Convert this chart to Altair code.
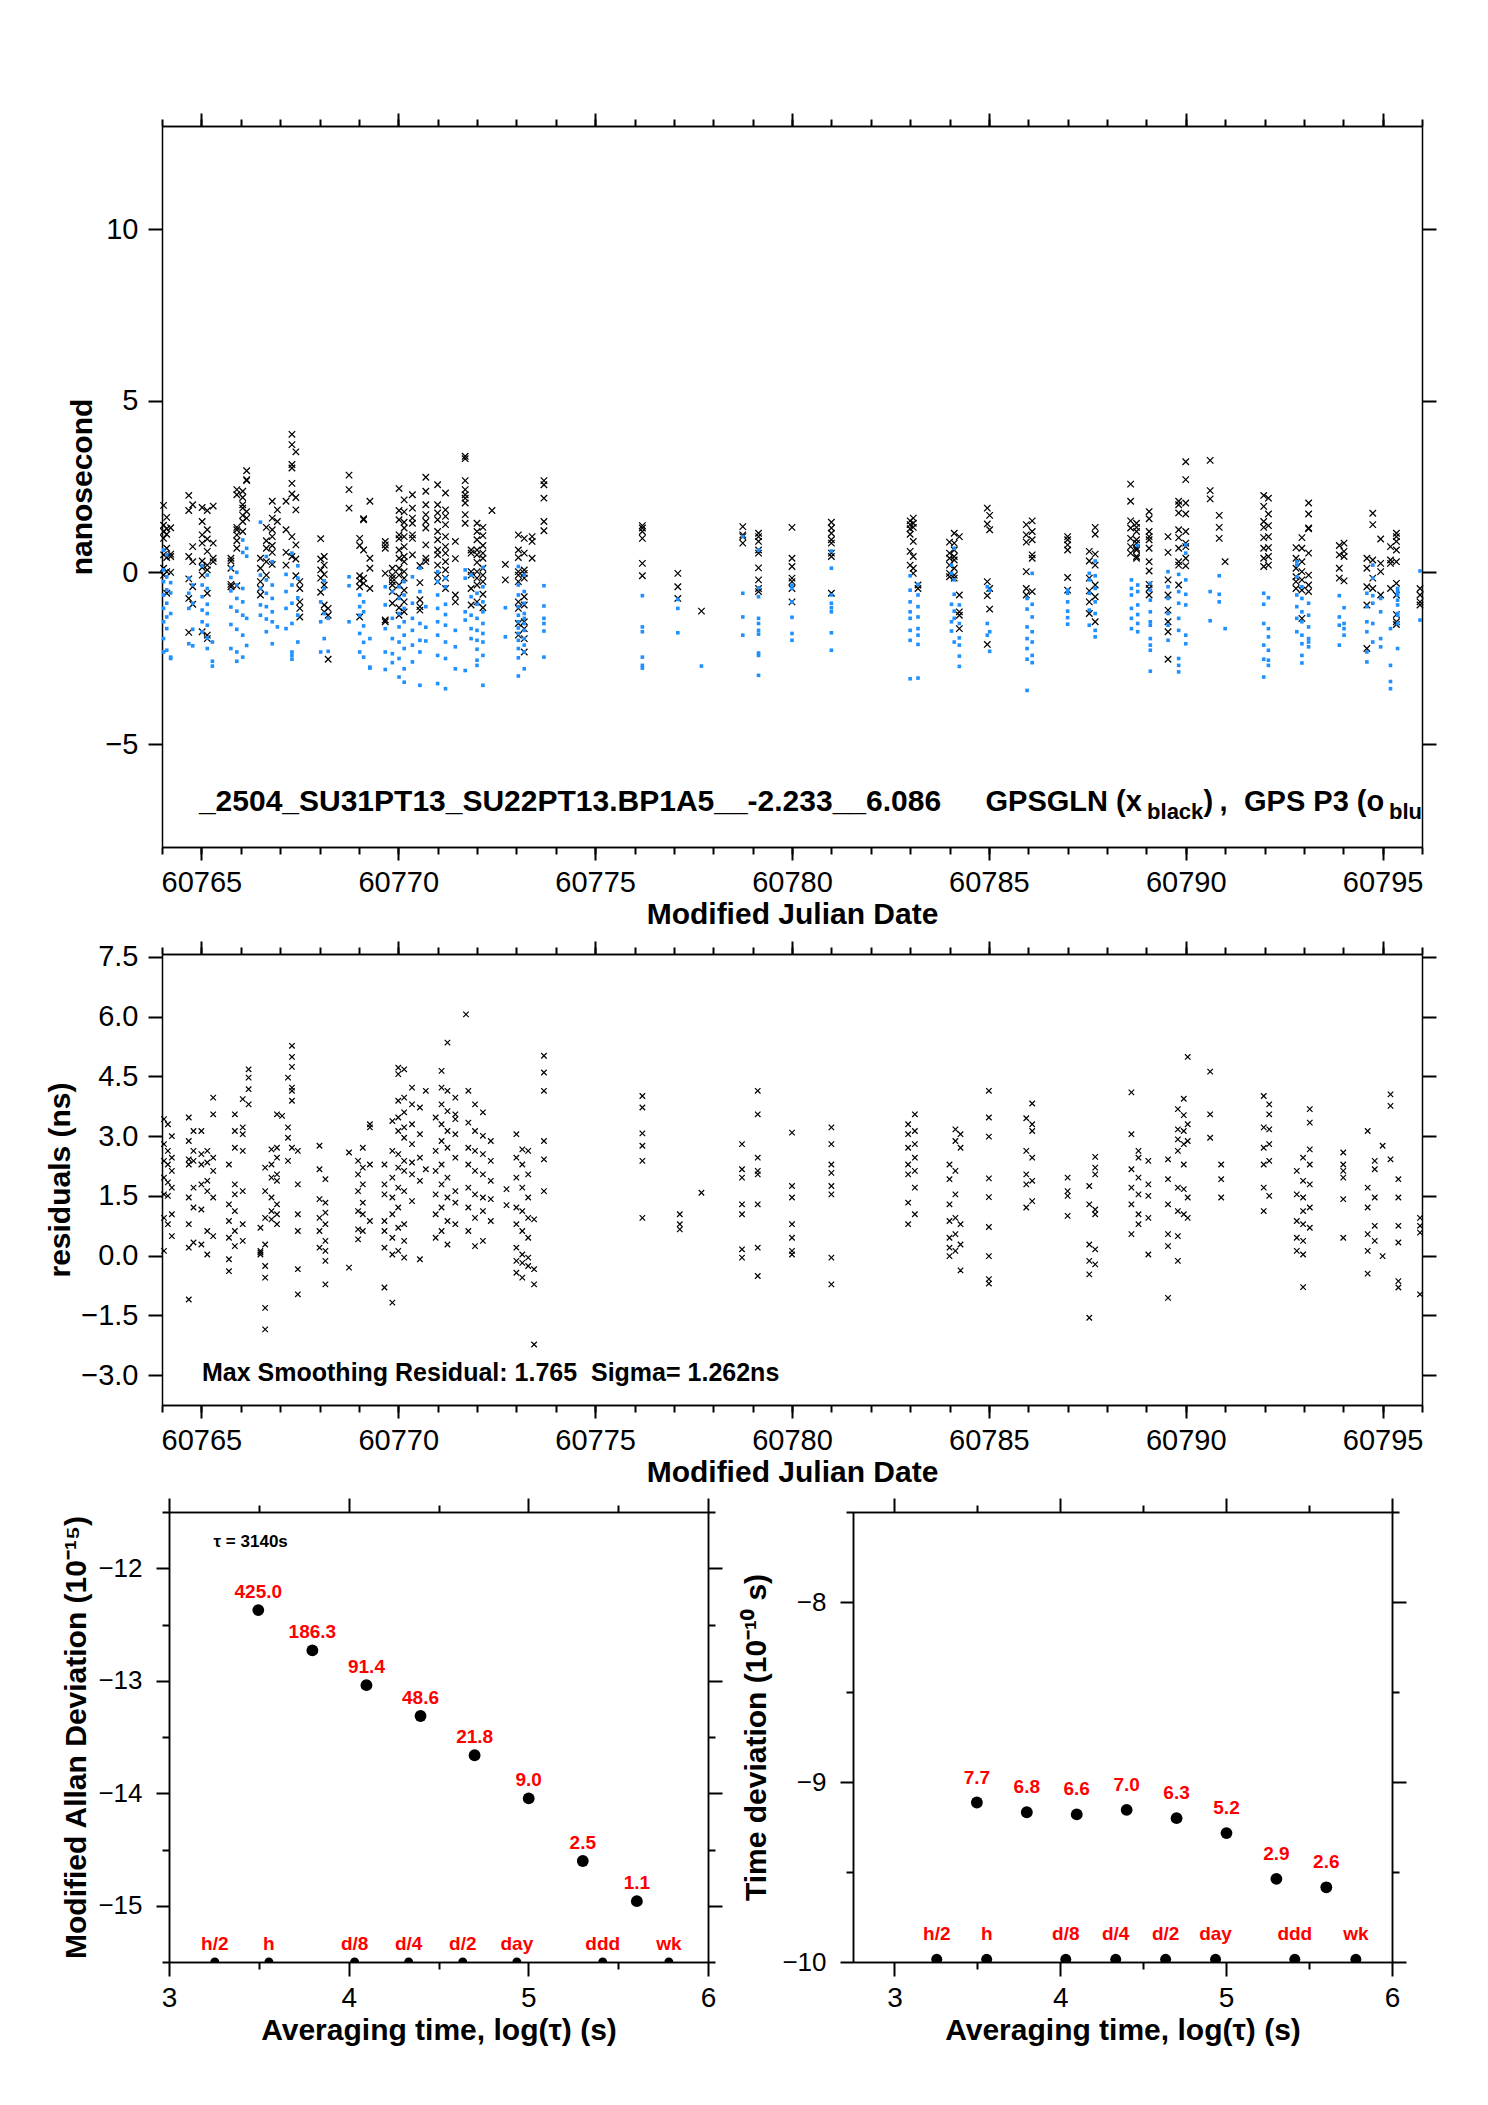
import altair as alt
import pandas as pd

FONT = "Liberation Sans"
BLUE = "#1E90FF"
XPATH = "M-1,-1L1,1M-1,1L1,-1"

# ---------------- top panel: GPSGLN (black x) per epoch group ----------------
GPSGLN_COLS = [
    (60764.04, [1.95, 1.37, 1.19, 0.99, 0.51, 0.12, -0.08]),
    (60764.12, [1.60, 1.27, 1.11, 0.70, 0.43, 0.02, -0.61]),
    (60764.22, [1.30, 0.53, 0.46, 0.00]),
    (60764.68, [2.24, 1.80, 0.46, -0.19, -0.76, -1.75]),
    (60764.78, [1.97, 0.75, 0.31, -0.42, -0.93]),
    (60765.02, [1.89, 1.48, 1.09, 0.85, 0.33, 0.14, -0.08, -1.73]),
    (60765.15, [1.80, 1.24, 0.97, 0.61, 0.21, 0.07, -0.61, -1.83, -1.93]),
    (60765.30, [1.93, 0.85, 0.41, 0.31]),
    (60765.75, [0.41, 0.33, 0.12, -0.35, -0.42]),
    (60765.90, [2.41, 2.26, 1.31, 1.24, 1.09, 0.92, 0.70, -0.39]),
    (60766.05, [2.36, 2.18, 1.97, 1.87, 1.66, 1.48, 1.19]),
    (60766.15, [2.96, 2.70, 2.67, 1.77, 1.58]),
    (60766.50, [0.41, 0.12, -0.27, -0.47, -0.66]),
    (60766.65, [1.31, 0.92, 0.70, 0.31, -0.08]),
    (60766.80, [2.07, 1.58, 1.24, 1.04, 0.78, 0.58, 0.23]),
    (60766.93, [1.82, 1.48]),
    (60767.15, [2.07, 1.24, 0.58, 0.21]),
    (60767.30, [4.02, 3.72, 3.14, 3.04, 2.59, 2.28, 1.04, 0.46]),
    (60767.40, [3.51, 2.18, 1.82, 0.80, 0.39, -0.10]),
    (60767.50, [-0.27, -0.47, -0.86, -1.05, -1.30]),
    (60768.03, [0.98, 0.39, 0.07, -0.17, -0.58]),
    (60768.12, [0.46, 0.21, -0.06, -0.37, -0.95, -1.15]),
    (60768.22, [-1.05, -1.25, -2.53]),
    (60768.75, [2.83, 2.41, 1.87]),
    (60769.02, [0.99, 0.78, -0.10, -0.25, -0.42, -1.30]),
    (60769.12, [1.56, 1.53, 0.65, -0.17, -0.32]),
    (60769.28, [2.07, 0.41, 0.12, -0.47]),
    (60769.67, [0.90, 0.80, 0.70, -0.03, -1.39, -1.44]),
    (60769.85, [0.12, -0.08, -0.17, -0.27, -0.37, -0.56, -0.90]),
    (60770.02, [2.44, 1.80, 1.53, 1.09, 0.98, 0.65, 0.41, 0.12, -0.08, -0.37, -0.71, -1.03, -1.25]),
    (60770.15, [2.11, 1.76, 1.46, 1.29, 1.04, 0.75, 0.46, 0.31, 0.02, -0.17, -0.52, -0.86, -1.15]),
    (60770.36, [2.26, 1.87, 1.58, 1.43, 1.09, 0.99, 0.51]),
    (60770.55, [0.20, -0.30, -0.80, -1.00, -1.10]),
    (60770.70, [2.77, 2.36, 1.97, 1.68, 1.48, 1.29, 0.80, 0.41, 0.31]),
    (60771.00, [2.55, 1.97, 1.73, 1.53, 1.19, 0.95, 0.65, 0.51, 0.21, -0.08, -0.27]),
    (60771.20, [2.31, 1.82, 1.63, 1.39, 1.04, 0.75, 0.56, 0.31, 0.07, -0.17, -0.47]),
    (60771.45, [0.90, 0.40, -0.66, -0.86]),
    (60771.70, [3.38, 3.31, 2.67, 2.41, 2.26, 2.16, 2.02, 1.68, 1.43]),
    (60771.85, [0.65, 0.56, 0.02, -0.08, -0.47, -0.95]),
    (60772.00, [1.43, 1.19, 0.95, 0.65, 0.51, 0.29, 0.02, -0.17, -0.37, -0.86]),
    (60772.15, [1.31, 1.07, 0.78, 0.56, 0.41, 0.12, -0.08, -0.27, -0.64, -1.03]),
    (60772.38, [1.80]),
    (60772.72, [0.23, -0.22]),
    (60773.05, [1.09, 0.65, 0.43, 0.02, -0.08, -0.27, -0.86, -1.05, -1.49, -1.83]),
    (60773.20, [0.99, 0.56, 0.07, -0.03, -0.17, -0.71, -0.95, -1.44, -1.64, -1.93, -2.32]),
    (60773.40, [1.04, 0.90, 0.41]),
    (60773.70, [2.67, 2.55, 2.16, 1.48, 1.21]),
    (60776.20, [1.36, 1.29, 1.19, 0.99, 0.26, -0.10]),
    (60777.10, [-0.03, -0.42, -0.76]),
    (60777.70, [-1.13]),
    (60778.75, [1.33, 1.09, 1.04, 0.85]),
    (60779.15, [1.14, 1.04, 0.90, 0.65, 0.56, 0.13, -0.22, -0.47, -0.56]),
    (60780.00, [1.31, 0.41, 0.17, -0.17, -0.27, -0.47, -0.86]),
    (60781.00, [1.46, 1.29, 1.14, 0.95, 0.85, 0.56, 0.46, -0.61]),
    (60783.00, [1.50, 1.39, 1.27, 1.11, 0.61, 0.21]),
    (60783.08, [1.58, 1.43, 1.31, 0.90, 0.46, 0.12, -0.03]),
    (60783.20, [-0.37, -0.47]),
    (60784.00, [0.88, 0.56, 0.41, 0.21, -0.03, -0.13]),
    (60784.12, [1.14, 0.85, 0.65, 0.46, 0.36, 0.12, -0.08, -0.17]),
    (60784.25, [1.04, -0.66, -1.15, -1.25, -1.64]),
    (60784.96, [1.87, 1.41, -0.27, -0.68, -2.10]),
    (60785.02, [1.66, 1.24, -0.47, -1.07]),
    (60785.95, [1.39, 1.09, 0.88, 0.02, -0.47, -0.66]),
    (60786.10, [1.50, 1.19, 0.95, 0.51, 0.41, -0.56]),
    (60787.00, [1.04, 0.95, 0.80, 0.65, -0.15, -0.52]),
    (60787.55, [0.61, 0.33, -0.17, -0.54, -0.86, -1.20]),
    (60787.70, [1.31, 1.11, 0.53, 0.21, -0.37, -0.71, -1.44]),
    (60788.60, [2.57, 2.07, 1.50, 1.29, 0.99, 0.75, 0.56]),
    (60788.75, [1.43, 1.31, 1.19, 0.95, 0.85, 0.70, 0.65, 0.46, 0.41]),
    (60789.07, [1.77, 1.56, 1.19, 1.04, 0.95, 0.70, 0.31, 0.04, -0.35, -0.47, -0.66]),
    (60789.55, [1.04, 0.58, -0.22, -0.66, -1.10, -1.44, -1.73, -2.53]),
    (60789.82, [2.07, 1.97, 1.73, 1.24, 1.01, 0.70, 0.31, 0.21, -0.37]),
    (60790.00, [3.22, 2.70, 2.02, 1.70, 1.19, 0.85, 0.75, 0.41, 0.19]),
    (60790.62, [3.26, 2.38, 2.14]),
    (60790.85, [1.66, 1.31, 0.99]),
    (60791.00, [0.31]),
    (60791.98, [2.24, 1.92, 1.48, 1.31, 1.01, 0.70, 0.41, 0.17]),
    (60792.10, [2.16, 1.70, 1.36, 1.04, 0.72, 0.46, 0.21]),
    (60792.80, [0.72, 0.41, 0.12, -0.13, -0.27, -0.47]),
    (60792.95, [1.01, 0.70, 0.31, 0.02, -0.22, -0.52, -1.34]),
    (60793.12, [2.02, 1.70, 1.29, 1.27, 0.56, -0.08, -0.37, -0.56]),
    (60793.90, [0.78, 0.51, 0.12, -0.17]),
    (60794.02, [0.85, 0.61, 0.46, -0.25]),
    (60794.60, [0.41, 0.12, -0.42, -0.95, -2.22]),
    (60794.75, [1.72, 1.39, 0.36, -0.17, -0.47]),
    (60794.95, [0.97, 0.26, 0.02, -0.66]),
    (60795.20, [0.75, 0.36, 0.26, -0.47]),
    (60795.35, [1.14, 1.04, 0.90, 0.65, 0.31, -0.32, -0.66, -1.23, -1.44, -1.52]),
    (60795.95, [-0.47, -0.66, -0.86, -0.95]),
]

# ---------------- top panel: GPS P3 (blue dots) ----------------
GPSP3_COLS = [
    (60764.04, [0.65, 0.07, -0.27, -0.66, -1.05, -1.44, -1.93, -2.32]),
    (60764.12, [0.51, -0.13, -0.51, -0.90, -1.30, -1.64, -2.27]),
    (60764.22, [-0.30, -0.60, -1.20, -2.47, -2.51]),
    (60764.68, [-0.17, -0.61, -1.05, -2.08]),
    (60764.78, [-0.37, -0.90, -1.66, -2.14]),
    (60765.02, [0.19, -0.37, -0.71, -1.10, -1.44, -1.73]),
    (60765.15, [-0.08, -0.47, -0.93, -1.20, -1.54, -1.91, -2.22]),
    (60765.28, [-2.03, -2.59, -2.73]),
    (60765.75, [0.12, -0.15, -0.54, -1.01, -1.52, -2.22]),
    (60765.90, [0.00, -0.37, -0.76, -1.13, -1.66, -2.32, -2.59]),
    (60766.05, [0.94, 0.58, -0.47, -0.86, -1.25, -1.83, -2.47]),
    (60766.15, [0.70, 0.47, -1.34, -2.13]),
    (60766.50, [1.46, -0.08, -0.47, -0.95, -1.25]),
    (60766.65, [0.46, -0.22, -0.61, -1.00, -1.36, -1.73]),
    (60766.80, [0.31, -0.37, -0.76, -1.15, -1.44, -2.08]),
    (60766.93, [-1.59]),
    (60767.15, [-0.06, -0.56, -1.05, -1.64]),
    (60767.30, [0.56, -0.37, -0.90, -1.49, -2.32, -2.42, -2.53]),
    (60767.45, [0.19, -0.17, -0.74, -1.25, -2.03]),
    (60768.03, [-0.86, -1.44, -2.32]),
    (60768.12, [-0.25, -0.47, -1.20, -1.93]),
    (60768.22, [-1.34, -2.30]),
    (60768.75, [-0.13, -0.39, -1.44]),
    (60769.02, [-0.66, -1.00, -1.25, -1.78, -2.32]),
    (60769.12, [-0.86, -1.15, -1.56, -2.04, -2.47]),
    (60769.28, [-1.93, -2.76, -2.79]),
    (60769.67, [-0.42, -0.95, -1.64, -2.32, -2.83]),
    (60769.85, [-0.56, -1.34, -1.93, -2.37, -2.63]),
    (60770.02, [-0.42, -0.76, -1.20, -1.59, -2.03, -2.51, -3.05]),
    (60770.15, [-0.27, -0.66, -1.05, -1.44, -1.83, -2.22, -2.81, -3.20]),
    (60770.36, [-0.13, -0.90, -1.34, -1.69, -2.12, -2.61]),
    (60770.55, [0.12, -0.56, -1.49, -1.98, -2.32, -3.29]),
    (60770.70, [-1.00, -1.60, -2.00]),
    (60771.00, [0.02, -0.27, -0.66, -1.05, -1.44, -1.83, -2.42, -3.24]),
    (60771.20, [-0.17, -0.42, -0.93, -1.23, -1.54, -2.03, -2.51, -3.39]),
    (60771.45, [-1.69, -2.17, -2.81]),
    (60771.70, [0.07, -0.17, -1.15, -1.39, -2.86]),
    (60771.85, [-0.08, -0.71, -1.25, -1.64, -1.93]),
    (60772.00, [-0.61, -0.93, -1.34, -1.69, -1.98, -2.24, -2.56, -2.71]),
    (60772.15, [0.14, -0.42, -0.86, -1.15, -1.49, -1.78, -2.03, -2.42, -3.29]),
    (60772.72, [-1.03, -1.88]),
    (60773.05, [0.17, -0.37, -0.66, -1.00, -1.25, -1.44, -1.62, -1.78, -1.98, -2.22, -2.49, -3.02]),
    (60773.20, [-0.08, -0.56, -0.90, -1.20, -1.34, -1.49, -1.69, -1.93, -2.12, -2.32, -2.81]),
    (60773.70, [-0.39, -0.98, -1.34, -1.49, -1.71, -2.47]),
    (60776.20, [-0.68, -1.59, -1.73, -2.47, -2.71, -2.79]),
    (60777.10, [-0.79, -1.05, -1.76]),
    (60777.70, [-2.73]),
    (60778.75, [1.04, -0.61, -1.30, -1.83]),
    (60779.15, [0.65, -0.45, -0.71, -1.34, -1.49, -1.69, -1.80, -2.35, -2.42, -3.00]),
    (60780.00, [-0.37, -0.47, -0.86, -1.31, -1.78, -1.98]),
    (60781.00, [0.62, 0.12, -0.66, -0.90, -1.03, -1.15, -1.76, -2.27]),
    (60783.00, [-0.10, -0.52, -0.86, -1.15, -1.34, -1.69, -1.98, -3.10]),
    (60783.20, [-0.35, -0.66, -1.00, -1.30, -1.64, -1.83, -2.10, -3.08]),
    (60784.05, [0.21, -0.03, -0.93, -1.44, -1.71]),
    (60784.12, [0.70, -0.22, -0.64, -1.13, -1.34, -2.03]),
    (60784.25, [-0.95, -1.49, -1.91, -2.12, -2.44, -2.74]),
    (60784.96, [-0.42, -1.49, -1.83]),
    (60785.02, [-0.52, -1.73, -2.30]),
    (60785.97, [-0.76, -1.07, -1.59, -1.93, -2.22, -2.53, -3.44]),
    (60786.10, [-0.03, -0.93, -1.30, -1.73, -2.03, -2.42, -2.63]),
    (60787.00, [-0.52, -0.61, -0.86, -1.13, -1.32, -1.51]),
    (60787.55, [-0.03, -0.22, -0.61, -1.10, -1.54]),
    (60787.70, [0.33, -0.10, -0.47, -0.86, -1.20, -1.69, -1.88]),
    (60788.62, [-0.22, -0.47, -0.66, -1.05, -1.34, -1.64]),
    (60788.78, [0.78, -0.37, -0.56, -0.95, -1.23, -1.49, -1.73]),
    (60789.10, [-0.32, -0.52, -0.81, -1.15, -1.44, -1.54, -1.93, -2.12, -2.27, -2.88]),
    (60789.55, [0.02, -0.42, -0.76, -1.20, -1.54, -1.98]),
    (60789.82, [-0.06, -0.56, -0.90, -1.34, -1.69, -2.51, -2.71, -2.90]),
    (60790.00, [0.80, 0.56, -0.22, -0.64, -0.95, -1.83, -2.08]),
    (60790.62, [-0.56, -1.41]),
    (60790.85, [-0.10, -0.64, -0.86]),
    (60791.00, [-1.64]),
    (60791.98, [-0.61, -0.93, -1.49, -2.12, -2.53, -3.05]),
    (60792.10, [-0.74, -1.64, -1.88, -2.27, -2.56, -2.71]),
    (60792.82, [0.31, 0.21, -0.13, -0.66, -1.00, -1.34, -1.73]),
    (60792.95, [-0.42, -0.76, -1.15, -1.44, -1.83, -2.08, -2.42, -2.64]),
    (60793.12, [-0.90, -1.25, -1.59, -1.93, -2.03, -2.17]),
    (60793.90, [-0.68, -1.30, -1.54, -2.12]),
    (60794.02, [-1.03, -1.49, -1.64, -1.83]),
    (60794.60, [-0.61, -1.00, -1.44, -1.73, -2.32, -2.61]),
    (60794.75, [0.21, -0.17, -0.68, -0.90, -1.49, -2.03]),
    (60794.95, [-0.76, -1.15, -1.93, -2.17]),
    (60795.20, [-1.64, -2.71, -3.18, -3.39]),
    (60795.38, [-0.47, -0.56, -0.66, -0.81, -0.95, -1.20, -1.25, -1.49, -2.22]),
    (60795.95, [0.04, -1.39]),
]

# ---------------- middle panel: residuals (ns) ----------------
RESID_COLS = [
    (60764.05, [3.43, 2.80, 2.38, 1.96, 1.54, 0.95, 0.12]),
    (60764.15, [3.30, 2.63, 2.29, 1.84, 1.50, 0.79]),
    (60764.25, [3.00, 2.46, 2.13, 1.71, 1.04, 0.49]),
    (60764.68, [3.47, 2.88, 2.42, 2.29, 1.46, 0.79, 0.20, -1.10]),
    (60764.80, [3.13, 2.63, 2.38, 1.71, 1.21, 0.33]),
    (60765.00, [3.13, 2.55, 2.29, 1.79, 1.16, 0.28]),
    (60765.15, [2.63, 2.34, 1.88, 1.62, 0.62, 0.03]),
    (60765.30, [3.97, 3.55, 2.46, 2.13, 1.46, 0.49]),
    (60765.70, [2.29, 1.29, 0.87, 0.45, -0.09, -0.39]),
    (60765.85, [3.55, 3.13, 2.71, 1.79, 1.54, 1.12, 0.62, 0.24]),
    (60766.05, [3.93, 3.22, 3.05, 2.63, 1.62, 0.79, 0.37]),
    (60766.20, [4.68, 4.47, 4.18, 3.80]),
    (60766.50, [0.70, 0.12, 0.08, 0.03]),
    (60766.62, [2.21, 1.62, 0.95, 0.28, -0.26, -0.55, -1.31, -1.85]),
    (60766.78, [2.67, 2.29, 1.96, 1.46, 1.12, 0.91]),
    (60766.92, [3.55, 2.71, 2.46, 2.04, 1.88, 1.29, 1.04, 0.79]),
    (60767.05, [3.51]),
    (60767.20, [4.47, 3.22, 2.96, 2.38]),
    (60767.30, [5.27, 4.99, 4.74, 4.22, 4.14, 3.89, 2.71]),
    (60767.45, [2.63, 1.79, 1.04, 0.62, -0.34, -0.97]),
    (60768.00, [2.76, 2.17, 1.42, 0.95, 0.62, 0.20]),
    (60768.15, [1.92, 1.33, 1.08, 0.79, 0.37, 0.12, -0.13, -0.72]),
    (60768.75, [2.59, -0.30]),
    (60768.98, [2.38, 2.04, 1.62, 1.12, 0.66, 0.41]),
    (60769.10, [2.71, 2.21, 1.79, 1.33, 1.04, 0.62]),
    (60769.28, [3.30, 3.22, 2.29, 0.87]),
    (60769.65, [2.29, 1.79, 1.54, 0.87, 0.62, 0.20, -0.80]),
    (60769.85, [3.38, 2.63, 1.96, 1.46, 1.04, 0.45, 0.03, -1.18]),
    (60770.00, [4.72, 4.56, 3.89, 3.47, 3.13, 2.55, 2.21, 1.71, 1.21, 0.70, 0.12]),
    (60770.15, [4.68, 3.97, 3.60, 3.22, 2.96, 2.38, 2.13, 1.62, 0.79, 0.37, -0.05]),
    (60770.35, [4.22, 3.80, 3.30, 2.80, 2.34, 2.04, 1.37]),
    (60770.55, [3.72, 3.05, 2.46, 1.88, -0.09]),
    (60770.70, [4.14, 2.17]),
    (60770.95, [3.47, 2.63, 2.13, 1.54, 1.04, 0.45]),
    (60771.10, [4.64, 4.22, 3.80, 3.30, 2.88, 2.29, 1.79, 1.21, 0.62]),
    (60771.25, [5.35, 4.14, 3.63, 3.13, 2.71, 1.96, 1.46, 0.87, 0.28]),
    (60771.45, [3.97, 3.55, 3.43, 3.05, 2.46, 1.62, 1.33, 0.79]),
    (60771.72, [6.06]),
    (60771.78, [4.14, 3.34, 2.71, 2.29, 1.71, 1.21, 0.62]),
    (60771.95, [3.80, 3.13, 2.63, 2.13, 1.54, 0.95, 0.24]),
    (60772.15, [3.60, 3.01, 2.55, 2.04, 1.46, 1.12, 0.37]),
    (60772.35, [2.88, 2.38, 1.88, 1.42, 0.87]),
    (60772.75, [1.67, 1.27]),
    (60773.00, [3.05, 2.46, 1.96, 1.21, 0.79, 0.20, -0.13, -0.43]),
    (60773.15, [2.67, 2.29, 1.71, 1.12, 0.62, 0.03, -0.18, -0.55]),
    (60773.30, [2.63, 2.04, 1.46, 0.95, 0.45, -0.05, -0.26]),
    (60773.45, [0.91, -0.34, -0.72, -2.23]),
    (60773.70, [5.02, 4.60, 4.14, 2.88, 2.42, 1.62]),
    (60776.20, [4.01, 3.72, 3.07, 2.76, 2.38, 0.95]),
    (60777.15, [1.04, 0.79, 0.66]),
    (60777.70, [1.58]),
    (60778.73, [2.80, 2.17, 1.96, 1.29, 1.04, 0.16, -0.05]),
    (60779.13, [4.14, 3.55, 2.46, 2.13, 2.04, 1.29, 0.20, -0.51]),
    (60780.00, [3.09, 1.75, 1.46, 0.79, 0.45, 0.12, 0.03]),
    (60781.00, [3.22, 2.80, 2.29, 2.08, 1.75, 1.54, -0.05, -0.72]),
    (60782.95, [3.30, 3.05, 2.71, 2.29, 2.04, 1.33, 0.79]),
    (60783.12, [3.55, 3.13, 2.80, 2.46, 2.13, 1.71, 1.04]),
    (60784.00, [2.29, 1.92, 1.29, 0.87, 0.45, 0.20, -0.01]),
    (60784.15, [3.17, 2.88, 2.13, 1.54, 0.95, 0.54, 0.12]),
    (60784.28, [3.05, 2.71, 0.79, 0.28, -0.37]),
    (60785.00, [4.14, 3.47, 2.99, 1.94, 1.47, 0.72, -0.01, -0.59, -0.70]),
    (60785.95, [3.45, 2.63, 2.04, 1.79, 1.21]),
    (60786.10, [3.82, 3.30, 3.13, 2.46, 1.88, 1.37]),
    (60787.00, [1.96, 1.62, 1.50, 1.00]),
    (60787.55, [1.75, 1.29, 0.28, -0.13, -0.47, -1.56]),
    (60787.70, [2.48, 2.21, 2.04, 1.16, 1.04, 0.16, -0.22]),
    (60788.62, [4.10, 3.05, 2.17, 1.71, 1.29, 0.54]),
    (60788.80, [2.63, 2.46, 1.96, 1.54, 1.04, 0.79]),
    (60789.05, [2.38, 1.79, 1.50, 0.95, 0.03]),
    (60789.55, [2.42, 1.92, 1.29, 0.54, 0.24, -1.06]),
    (60789.80, [3.68, 3.17, 2.92, 2.63, 1.71, 1.12, 0.49, -0.13]),
    (60789.95, [3.94, 3.53, 3.13, 2.80, 2.29, 1.67, 1.04]),
    (60790.05, [4.99, 3.30, 2.88, 1.46, 0.95]),
    (60790.62, [4.62, 3.55, 2.96]),
    (60790.90, [2.29, 1.92, 1.46]),
    (60791.98, [4.01, 3.22, 2.71, 2.29, 1.71, 1.12]),
    (60792.12, [3.80, 3.55, 3.17, 2.80, 2.38, 1.50]),
    (60792.82, [2.13, 1.54, 0.87, 0.45, 0.12]),
    (60792.98, [2.46, 1.88, 1.46, 1.12, 0.79, 0.37, 0.03, -0.79]),
    (60793.15, [3.68, 3.34, 2.67, 2.29, 1.79, 1.21, 0.70]),
    (60794.00, [2.59, 2.29, 2.13, 1.96, 1.42, 0.45]),
    (60794.62, [3.13, 1.71, 1.21, 0.54, 0.12, -0.45]),
    (60794.80, [2.38, 2.17, 1.46, 0.75, 0.37]),
    (60795.00, [2.76, -0.01]),
    (60795.20, [4.05, 3.76, 2.42]),
    (60795.40, [1.92, 1.46, 0.75, 0.33, -0.64, -0.80]),
    (60795.95, [0.95, 0.75, 0.58, -0.97]),
]

MJD_MAJOR = [60765, 60770, 60775, 60780, 60785, 60790, 60795]
MJD_MINOR = list(range(60764, 60797))
NS_TICKS = [-5, 0, 5, 10]
RES_TICKS = [-3.0, -1.5, 0.0, 1.5, 3.0, 4.5, 6.0, 7.5]

TOP_TEXT = [(60764.937, -6.94, "_2504_SU31PT13_SU22PT13.BP1A5__-2.233__6.086", 30),
            (60784.914, -6.94, "GPSGLN (x", 29),
            (60790.451, -6.94, ")", 29),
            (60790.857, -6.94, ",", 29),
            (60791.479, -6.94, "GPS P3 (o", 29)]
TOP_SUB = [(60789.018, -7.17, "black"), (60795.162, -7.17, "blue")]
MID_TEXT = [(60765.016, -3.15, "Max Smoothing Residual: 1.765\u00a0 Sigma= 1.262ns")]

# ---------------- bottom panels ----------------
TAU_LOG = [3.497, 3.798, 4.099, 4.400, 4.701, 5.002, 5.303, 5.604]
MDEV_LOG = [-12.372, -12.730, -13.039, -13.313, -13.662, -14.046, -14.602, -14.959]
MDEV_LABEL = ["425.0", "186.3", "91.4", "48.6", "21.8", "9.0", "2.5", "1.1"]
TDEV_LOG = [-9.114, -9.168, -9.180, -9.155, -9.201, -9.284, -9.538, -9.585]
TDEV_LABEL = ["7.7", "6.8", "6.6", "7.0", "6.3", "5.2", "2.9", "2.6"]
MARK_LOG = [3.255, 3.556, 4.033, 4.334, 4.635, 4.936, 5.414, 5.782]
MARK_LABEL = ["h/2", "h", "d/8", "d/4", "d/2", "day", "ddd", "wk"]
TAU_TEXT = [(3.248, -11.767, "\u03c4 = 3140s")]


def expand(cols, field):
    return pd.DataFrame([{"mjd": x, field: v} for x, vals in cols for v in vals])


def axis(orient, values, tick, labels=False, fmt="d", title=None, lsize=29,
         tsize=30, lpad=10, tpad=3):
    kw = dict(orient=orient, values=values, tickSize=tick, tickWidth=2,
              tickColor="black", domain=True, domainColor="black",
              domainWidth=1.5, grid=False, labels=labels, ticks=True)
    if labels:
        kw.update(format=fmt, labelFont=FONT, labelFontSize=lsize,
                  labelColor="black", labelPadding=lpad, labelFlush=False,
                  labelOverlap=False)
    if title:
        kw.update(title=title, titleFont=FONT, titleFontSize=tsize,
                  titleFontWeight="bold", titleColor="black",
                  titlePadding=tpad)
    else:
        kw["title"] = None
    return alt.Axis(**kw)


# ================= TOP PANEL =================
xs_mjd = alt.Scale(domain=[60764, 60796], nice=False, zero=False)
ys_ns = alt.Scale(domain=[-8, 13], nice=False, zero=False)

df_black = expand(GPSGLN_COLS, "ns")
df_blue = expand(GPSP3_COLS, "ns")
df_ttext = pd.DataFrame(TOP_TEXT, columns=["mjd", "ns", "t", "fs"])
df_tsub = pd.DataFrame(TOP_SUB, columns=["mjd", "ns", "t"])

t1 = alt.Chart(df_black).mark_point(shape=XPATH, filled=False, stroke="black",
                                    strokeWidth=1.25, size=42, opacity=1).encode(
    x=alt.X("mjd:Q", scale=xs_mjd,
            axis=axis("bottom", MJD_MAJOR, 13, labels=True,
                      title="Modified Julian Date", lpad=8, tpad=2)),
    y=alt.Y("ns:Q", scale=ys_ns,
            axis=axis("left", NS_TICKS, 14, labels=True, title="nanosecond",
                      lpad=10, tpad=7)))
t2 = alt.Chart(df_blue).mark_square(size=13, color=BLUE, opacity=1).encode(
    x=alt.X("mjd:Q", scale=xs_mjd, axis=axis("bottom", MJD_MINOR, 7)),
    y=alt.Y("ns:Q", scale=ys_ns, axis=axis("right", NS_TICKS, 14)))
t3 = alt.Chart(df_ttext).mark_text(align="left", baseline="alphabetic",
                                   font=FONT, fontWeight="bold",
                                   color="black", clip=True).encode(
    x=alt.X("mjd:Q", scale=xs_mjd, axis=axis("top", MJD_MAJOR, 13)),
    y=alt.Y("ns:Q", scale=ys_ns, axis=None), text="t:N",
    size=alt.Size("fs:Q", scale=None, legend=None))
t4 = alt.Chart(df_tsub).mark_text(align="left", baseline="alphabetic",
                                  font=FONT, fontSize=22, fontWeight="bold",
                                  color="black", clip=True).encode(
    x=alt.X("mjd:Q", scale=xs_mjd, axis=axis("top", MJD_MINOR, 7)),
    y=alt.Y("ns:Q", scale=ys_ns, axis=None), text="t:N")
top = alt.layer(t1, t2, t3, t4).resolve_axis(
    x="independent", y="independent").properties(width=1260, height=721)

# ================= MIDDLE PANEL =================
ys_res = alt.Scale(domain=[-3.75, 7.575], nice=False, zero=False)
df_res = expand(RESID_COLS, "res")
df_mtext = pd.DataFrame(MID_TEXT, columns=["mjd", "res", "t"])

m1 = alt.Chart(df_res).mark_point(shape=XPATH, filled=False, stroke="black",
                                  strokeWidth=1.2, size=30, opacity=1).encode(
    x=alt.X("mjd:Q", scale=xs_mjd,
            axis=axis("bottom", MJD_MAJOR, 13, labels=True,
                      title="Modified Julian Date", lpad=8, tpad=2)),
    y=alt.Y("res:Q", scale=ys_res,
            axis=axis("left", RES_TICKS, 14, labels=True, fmt=".1f",
                      title="residuals (ns)", lpad=10, tpad=5)))
m2 = alt.Chart(df_mtext).mark_text(align="left", baseline="alphabetic",
                                   font=FONT, fontSize=25, fontWeight="bold",
                                   color="black").encode(
    x=alt.X("mjd:Q", scale=xs_mjd, axis=axis("bottom", MJD_MINOR, 7)),
    y=alt.Y("res:Q", scale=ys_res, axis=axis("right", RES_TICKS, 14)),
    text="t:N")
m3 = alt.Chart(df_mtext).mark_point(opacity=0).encode(
    x=alt.X("mjd:Q", scale=xs_mjd, axis=axis("top", MJD_MAJOR, 13)),
    y=alt.Y("res:Q", scale=ys_res, axis=None))
m4 = alt.Chart(df_mtext).mark_point(opacity=0).encode(
    x=alt.X("mjd:Q", scale=xs_mjd, axis=axis("top", MJD_MINOR, 7)),
    y=alt.Y("res:Q", scale=ys_res, axis=None))
mid = alt.layer(m1, m2, m3, m4).resolve_axis(
    x="independent", y="independent").properties(width=1260, height=451)


# ================= BOTTOM PANELS =================
def stab_panel(xdom, ydom, ymaj, ymin, yvals, ylabels, ytitle, ytpad, lab_dy,
               mark_y, mark_size, mlab_dy, tau=None):
    xs = alt.Scale(domain=xdom, nice=False, zero=False)
    ys = alt.Scale(domain=ydom, nice=False, zero=False)
    pts = pd.DataFrame({"x": TAU_LOG, "y": yvals, "lab": ylabels})
    mk = pd.DataFrame({"x": MARK_LOG, "lab": MARK_LABEL})
    mk["y"] = mark_y
    xmaj = [3, 4, 5, 6]
    xmin = [3.5, 4.5, 5.5]
    l1 = alt.Chart(pts).mark_circle(size=140, color="black", opacity=1).encode(
        x=alt.X("x:Q", scale=xs,
                axis=axis("bottom", xmaj, 14, labels=True,
                          title="Averaging time, log(\u03c4) (s)", lsize=28,
                          tsize=30, lpad=8, tpad=3)),
        y=alt.Y("y:Q", scale=ys,
                axis=axis("left", ymaj, 13, labels=True, title=ytitle,
                          lsize=26, tsize=30, lpad=14, tpad=ytpad)))
    l2 = alt.Chart(pts).mark_text(dy=lab_dy, baseline="middle", font=FONT,
                                  fontSize=19, fontWeight="bold",
                                  color="red").encode(
        x=alt.X("x:Q", scale=xs, axis=axis("bottom", xmin, 7)),
        y=alt.Y("y:Q", scale=ys, axis=axis("left", ymin, 7)),
        text="lab:N")
    l3 = alt.Chart(mk).mark_circle(size=mark_size, color="black", opacity=1,
                                   clip=True).encode(
        x=alt.X("x:Q", scale=xs, axis=axis("top", xmaj, 14)),
        y=alt.Y("y:Q", scale=ys, axis=axis("right", ymaj, 14)))
    l4 = alt.Chart(mk).mark_text(dy=mlab_dy, baseline="middle", font=FONT,
                                 fontSize=19, fontWeight="bold",
                                 color="red").encode(
        x=alt.X("x:Q", scale=xs, axis=axis("top", xmin, 7)),
        y=alt.Y("y:Q", scale=ys, axis=axis("right", ymin, 7)),
        text="lab:N")
    layers = [l1, l2, l3, l4]
    if tau:
        dt = pd.DataFrame(tau, columns=["x", "y", "t"])
        layers.append(alt.Chart(dt).mark_text(
            align="left", baseline="middle", font=FONT, fontSize=17,
            fontWeight="bold", color="black").encode(
            x=alt.X("x:Q", scale=xs, axis=None),
            y=alt.Y("y:Q", scale=ys, axis=None), text="t:N"))
    return alt.layer(*layers).resolve_axis(
        x="independent", y="independent").properties(width=539, height=450)


left = stab_panel([3, 6], [-15.5, -11.5], [-15, -14, -13, -12],
                  [-15.5, -14.5, -13.5, -12.5, -11.5], MDEV_LOG, MDEV_LABEL,
                  "Modified Allan Deviation (10\u207b\u00b9\u2075)", 6, -18,
                  -15.5, 80, -18, tau=TAU_TEXT)
right = stab_panel([2.75, 6], [-10, -7.5], [-10, -9, -8],
                   [-9.5, -8.5, -7.5], TDEV_LOG, TDEV_LABEL,
                   "Time deviation (10\u207b\u00b9\u2070 s)", 10, -25,
                   -9.985, 120, -25)


def spacer(w):
    return alt.Chart(pd.DataFrame({"v": [0]})).mark_point(opacity=0).encode(
        x=alt.X("v:Q", axis=None), y=alt.Y("v:Q", axis=None)).properties(
        width=w, height=450)


bottom = alt.hconcat(spacer(7), left, spacer(145), right, spacing=0,
                     bounds="flush")

chart = alt.vconcat(top, mid, bottom, spacing=107, bounds="flush").properties(
    padding={"left": 37, "top": 104, "right": 10, "bottom": 10},
    background="white"
).configure_view(strokeWidth=0)

chart.save("out.html", embed_options={"renderer": "svg", "actions": False})
